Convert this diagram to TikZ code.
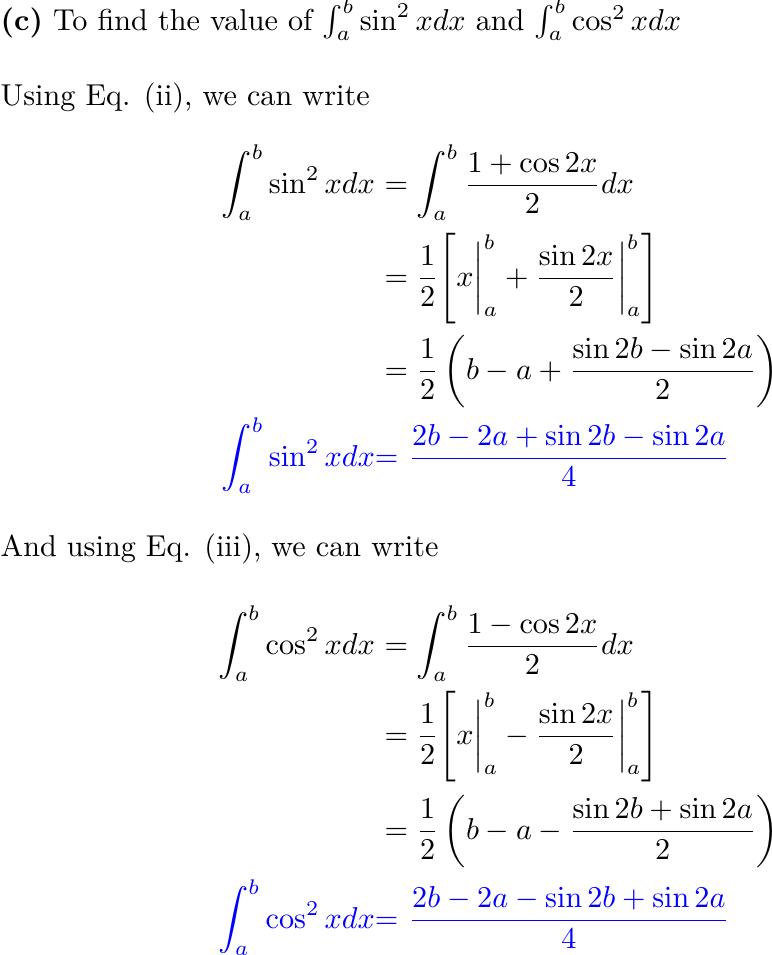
\documentclass[tikz,border=0pt]{standalone}
\usepackage{amsmath}
\usepackage{tikz}
\usetikzlibrary{positioning}
\tikzstyle{txt}=[anchor=base west, inner sep=0pt]
\tikzstyle{lhs}=[anchor=base east, inner sep=0pt]
\tikzstyle{res}=[text=blue]

\begin{document}
\begin{tikzpicture}[x=0.331pt, y=-0.331pt]
  \useasboundingbox (0, 0) rectangle (772, 955);

  \node [txt] at (0, 30)  (title) {\textbf{(c)} To find the value of $\int_a^b \sin^2 xdx$ and $\int_a^b \cos^2 xdx$};
  \node [txt] at (0, 105) (text_ii) {Using Eq. (ii), we can write};

  \node [lhs] at (375.5, 193) (sin_l) {$\displaystyle\int_a^b \sin^2 xdx$};
  \node [txt] at (384, 193)   (sin_1) {$\displaystyle= \int_a^b \frac{1+\cos 2x}{2}dx$};
  \node [txt] at (384, 286)   (sin_2) {$\displaystyle= \frac{1}{2}\Bigg[x\bigg|_a^b + \frac{\sin 2x}{2}\bigg|_a^b\Bigg]$};
  \node [txt] at (384, 379)   (sin_3) {$\displaystyle= \frac{1}{2}\left(b-a+\frac{\sin 2b-\sin 2a}{2}\right)$};
  \node [lhs, res] at (399, 466) (sin_res_l) {$\displaystyle\int_a^b \sin^2 xdx{=}$};
  \node [txt, res] at (408, 466) (sin_res) {$\displaystyle\frac{2b-2a+\sin 2b-\sin 2a}{4}$};

  \node [txt] at (0, 556) (text_iii) {And using Eq. (iii), we can write};

  \node [lhs] at (375.5, 654) (cos_l) {$\displaystyle\int_a^b \cos^2 xdx$};
  \node [txt] at (384, 654)   (cos_1) {$\displaystyle= \int_a^b \frac{1-\cos 2x}{2}dx$};
  \node [txt] at (384, 744)   (cos_2) {$\displaystyle= \frac{1}{2}\Bigg[x\bigg|_a^b - \frac{\sin 2x}{2}\bigg|_a^b\Bigg]$};
  \node [txt] at (384, 839)   (cos_3) {$\displaystyle= \frac{1}{2}\left(b-a-\frac{\sin 2b+\sin 2a}{2}\right)$};
  \node [lhs, res] at (399, 928) (cos_res_l) {$\displaystyle\int_a^b \cos^2 xdx{=}$};
  \node [txt, res] at (408, 928) (cos_res) {$\displaystyle\frac{2b-2a-\sin 2b+\sin 2a}{4}$};
\end{tikzpicture}
\end{document}
